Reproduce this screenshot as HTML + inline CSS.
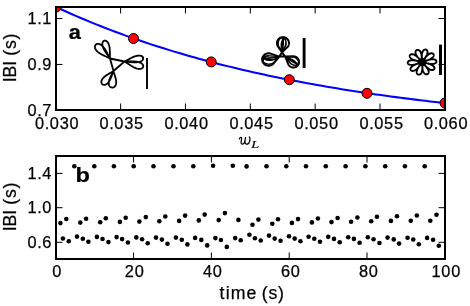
<!DOCTYPE html>
<html><head><meta charset="utf-8"><style>html,body{margin:0;padding:0;background:#fff;}svg{display:block;}</style></head>
<body><div style="position:relative;width:470px;height:306px;overflow:hidden;background:#fff">
<svg width="470" height="306" viewBox="0 0 470 306" style="position:absolute;left:0;top:0">
<rect width="470" height="306" fill="#fff"/>
<defs><clipPath id="ct"><rect x="56.10" y="6.95" width="388.90" height="103.05"/></clipPath><clipPath id="cb"><rect x="56.10" y="155.85" width="388.90" height="103.25"/></clipPath></defs>
<g clip-path="url(#ct)"><polyline points="56.10,7.03 61.02,9.30 65.95,11.53 70.87,13.72 75.79,15.87 80.71,17.99 85.64,20.06 90.56,22.10 95.48,24.10 100.41,26.06 105.33,27.99 110.25,29.88 115.17,31.74 120.10,33.57 125.02,35.36 129.94,37.12 134.86,38.85 139.79,40.55 144.71,42.22 149.63,43.85 154.56,45.46 159.48,47.04 164.40,48.59 169.32,50.11 174.25,51.61 179.17,53.08 184.09,54.52 189.02,55.93 193.94,57.32 198.86,58.69 203.78,60.03 208.71,61.34 213.63,62.64 218.55,63.90 223.47,65.15 228.40,66.37 233.32,67.58 238.24,68.76 243.17,69.91 248.09,71.05 253.01,72.17 257.93,73.27 262.86,74.34 267.78,75.40 272.70,76.44 277.63,77.46 282.55,78.46 287.47,79.44 292.39,80.41 297.32,81.36 302.24,82.29 307.16,83.20 312.08,84.10 317.01,84.98 321.93,85.85 326.85,86.70 331.78,87.53 336.70,88.35 341.62,89.16 346.54,89.95 351.47,90.73 356.39,91.49 361.31,92.24 366.24,92.97 371.16,93.69 376.08,94.40 381.00,95.10 385.93,95.78 390.85,96.45 395.77,97.11 400.69,97.76 405.62,98.39 410.54,99.02 415.46,99.63 420.39,100.23 425.31,100.82 430.23,101.40 435.15,101.97 440.08,102.53 445.00,103.08" fill="none" stroke="#0000ff" stroke-width="2.05"/>
<circle cx="56.1" cy="7.0" r="5.0" fill="#ff0000" stroke="#000" stroke-width="1.0"/>
<circle cx="133.5" cy="38.5" r="5.0" fill="#ff0000" stroke="#000" stroke-width="1.0"/>
<circle cx="211.2" cy="61.9" r="5.0" fill="#ff0000" stroke="#000" stroke-width="1.0"/>
<circle cx="289.3" cy="79.7" r="5.0" fill="#ff0000" stroke="#000" stroke-width="1.0"/>
<circle cx="367.0" cy="93.3" r="5.0" fill="#ff0000" stroke="#000" stroke-width="1.0"/>
<circle cx="445.0" cy="103.0" r="5.0" fill="#ff0000" stroke="#000" stroke-width="1.0"/>
</g>
<path d="M110.00,58.50 L109.98,58.48 L109.92,58.44 L109.82,58.38 L109.67,58.29 L109.48,58.18 L109.24,58.05 L108.96,57.91 L108.64,57.75 L108.27,57.57 L107.86,57.38 L107.42,57.17 L106.94,56.96 L106.43,56.72 L105.88,56.48 L105.32,56.22 L104.73,55.95 L104.13,55.67 L103.51,55.37 L102.89,55.06 L102.26,54.74 L101.63,54.41 L101.01,54.06 L100.40,53.69 L99.80,53.32 L99.22,52.93 L98.67,52.53 L98.14,52.12 L97.65,51.70 L97.19,51.27 L96.76,50.83 L96.38,50.39 L96.04,49.93 L95.74,49.48 L95.48,49.03 L95.28,48.57 L95.12,48.13 L95.01,47.68 L94.95,47.25 L94.93,46.83 L94.96,46.43 L95.04,46.04 L95.16,45.68 L95.32,45.34 L95.52,45.03 L95.76,44.75 L96.03,44.50 L96.33,44.29 L96.67,44.11 L97.03,43.98 L97.41,43.89 L97.81,43.85 L98.23,43.85 L98.67,43.90 L99.11,43.99 L99.57,44.13 L100.03,44.32 L100.49,44.56 L100.95,44.84 L101.41,45.17 L101.87,45.54 L102.33,45.95 L102.77,46.39 L103.21,46.87 L103.64,47.39 L104.06,47.93 L104.47,48.49 L104.86,49.07 L105.25,49.67 L105.62,50.28 L105.97,50.89 L106.32,51.51 L106.65,52.12 L106.97,52.73 L107.27,53.32 L107.56,53.90 L107.84,54.46 L108.10,54.99 L108.35,55.49 L108.58,55.97 L108.80,56.40 L109.01,56.80 L109.20,57.16 L109.37,57.48 L109.53,57.76 L109.66,57.99 L109.78,58.18 L109.87,58.32 L109.94,58.42 L109.98,58.48 L110.00,58.50Z M110.00,58.50 L109.99,58.48 L109.96,58.42 L109.91,58.32 L109.83,58.18 L109.72,58.00 L109.58,57.79 L109.42,57.54 L109.23,57.26 L109.01,56.94 L108.77,56.60 L108.50,56.23 L108.21,55.83 L107.90,55.40 L107.57,54.96 L107.23,54.49 L106.87,53.99 L106.51,53.48 L106.15,52.96 L105.78,52.42 L105.41,51.87 L105.05,51.30 L104.70,50.73 L104.37,50.16 L104.05,49.58 L103.75,48.99 L103.47,48.41 L103.22,47.83 L102.99,47.26 L102.80,46.70 L102.64,46.14 L102.51,45.60 L102.42,45.08 L102.36,44.57 L102.34,44.08 L102.36,43.62 L102.41,43.18 L102.50,42.77 L102.61,42.39 L102.77,42.04 L102.95,41.72 L103.16,41.44 L103.39,41.20 L103.65,41.00 L103.93,40.84 L104.22,40.72 L104.53,40.64 L104.85,40.61 L105.18,40.62 L105.51,40.68 L105.84,40.78 L106.18,40.93 L106.51,41.12 L106.83,41.36 L107.14,41.65 L107.44,41.97 L107.72,42.34 L107.99,42.74 L108.24,43.19 L108.48,43.67 L108.69,44.18 L108.89,44.72 L109.06,45.29 L109.22,45.88 L109.35,46.50 L109.47,47.13 L109.57,47.78 L109.65,48.44 L109.72,49.10 L109.77,49.77 L109.81,50.44 L109.84,51.10 L109.86,51.75 L109.87,52.39 L109.88,53.02 L109.88,53.62 L109.88,54.20 L109.88,54.76 L109.88,55.29 L109.88,55.78 L109.88,56.24 L109.89,56.66 L109.89,57.04 L109.90,57.38 L109.92,57.68 L109.93,57.93 L109.95,58.14 L109.97,58.30 L109.98,58.41 L109.99,58.48 L110.00,58.50Z M124.50,61.50 L124.52,61.49 L124.59,61.47 L124.70,61.43 L124.85,61.37 L125.04,61.28 L125.27,61.17 L125.54,61.04 L125.85,60.88 L126.19,60.70 L126.57,60.50 L126.98,60.28 L127.42,60.04 L127.89,59.78 L128.38,59.51 L128.90,59.22 L129.44,58.93 L129.99,58.63 L130.57,58.33 L131.16,58.03 L131.76,57.73 L132.38,57.44 L133.00,57.16 L133.62,56.90 L134.25,56.65 L134.87,56.42 L135.49,56.21 L136.11,56.03 L136.71,55.88 L137.30,55.75 L137.88,55.66 L138.44,55.60 L138.98,55.57 L139.50,55.57 L139.99,55.61 L140.46,55.68 L140.90,55.78 L141.30,55.92 L141.67,56.08 L142.00,56.27 L142.30,56.49 L142.55,56.73 L142.77,56.99 L142.94,57.27 L143.07,57.57 L143.15,57.87 L143.19,58.19 L143.18,58.51 L143.13,58.84 L143.03,59.16 L142.88,59.48 L142.69,59.79 L142.45,60.09 L142.17,60.39 L141.84,60.66 L141.48,60.92 L141.07,61.16 L140.63,61.38 L140.15,61.58 L139.64,61.75 L139.10,61.90 L138.52,62.03 L137.93,62.14 L137.31,62.22 L136.67,62.29 L136.02,62.33 L135.35,62.35 L134.68,62.35 L134.00,62.34 L133.32,62.31 L132.65,62.27 L131.98,62.22 L131.32,62.17 L130.67,62.10 L130.04,62.03 L129.43,61.96 L128.84,61.89 L128.28,61.83 L127.75,61.76 L127.26,61.70 L126.79,61.65 L126.37,61.61 L125.98,61.57 L125.64,61.54 L125.34,61.52 L125.08,61.50 L124.87,61.49 L124.71,61.49 L124.59,61.49 L124.52,61.50 L124.50,61.50Z M124.50,61.50 L124.52,61.50 L124.59,61.51 L124.71,61.53 L124.88,61.54 L125.09,61.55 L125.36,61.56 L125.66,61.56 L126.02,61.56 L126.41,61.55 L126.85,61.54 L127.32,61.53 L127.83,61.51 L128.38,61.49 L128.96,61.47 L129.56,61.45 L130.19,61.43 L130.83,61.42 L131.50,61.41 L132.18,61.41 L132.86,61.42 L133.56,61.43 L134.25,61.47 L134.94,61.51 L135.62,61.57 L136.30,61.65 L136.96,61.75 L137.60,61.87 L138.22,62.01 L138.82,62.17 L139.39,62.36 L139.93,62.56 L140.43,62.79 L140.90,63.03 L141.34,63.29 L141.73,63.58 L142.07,63.87 L142.38,64.18 L142.64,64.51 L142.85,64.84 L143.02,65.18 L143.14,65.52 L143.21,65.86 L143.24,66.19 L143.22,66.53 L143.15,66.85 L143.04,67.16 L142.88,67.45 L142.68,67.72 L142.44,67.97 L142.15,68.20 L141.83,68.39 L141.48,68.56 L141.08,68.70 L140.66,68.80 L140.21,68.87 L139.73,68.90 L139.22,68.90 L138.69,68.85 L138.15,68.78 L137.58,68.66 L137.00,68.52 L136.41,68.34 L135.81,68.13 L135.20,67.89 L134.59,67.62 L133.97,67.33 L133.36,67.02 L132.75,66.70 L132.14,66.35 L131.55,66.00 L130.96,65.65 L130.39,65.28 L129.83,64.92 L129.29,64.57 L128.77,64.22 L128.26,63.88 L127.79,63.56 L127.34,63.26 L126.91,62.97 L126.51,62.71 L126.15,62.47 L125.82,62.25 L125.52,62.07 L125.26,61.91 L125.03,61.77 L124.84,61.67 L124.69,61.59 L124.59,61.54 L124.52,61.51 L124.50,61.50Z M113.50,71.00 L113.49,71.02 L113.46,71.07 L113.40,71.17 L113.34,71.30 L113.26,71.48 L113.16,71.69 L113.06,71.95 L112.94,72.25 L112.81,72.58 L112.68,72.95 L112.53,73.36 L112.38,73.79 L112.21,74.26 L112.04,74.75 L111.86,75.27 L111.66,75.80 L111.46,76.35 L111.25,76.91 L111.02,77.48 L110.79,78.06 L110.54,78.63 L110.28,79.20 L110.01,79.76 L109.72,80.30 L109.42,80.83 L109.11,81.34 L108.79,81.83 L108.45,82.29 L108.11,82.72 L107.75,83.11 L107.38,83.47 L107.01,83.80 L106.63,84.08 L106.24,84.32 L105.85,84.53 L105.46,84.68 L105.08,84.80 L104.70,84.87 L104.32,84.90 L103.96,84.89 L103.60,84.84 L103.27,84.75 L102.95,84.62 L102.65,84.45 L102.38,84.25 L102.13,84.02 L101.92,83.76 L101.74,83.47 L101.59,83.15 L101.47,82.81 L101.40,82.45 L101.37,82.08 L101.37,81.69 L101.42,81.29 L101.51,80.88 L101.64,80.46 L101.81,80.04 L102.03,79.62 L102.28,79.19 L102.57,78.77 L102.90,78.35 L103.26,77.93 L103.65,77.52 L104.08,77.12 L104.52,76.72 L104.99,76.34 L105.48,75.96 L105.99,75.59 L106.50,75.24 L107.02,74.90 L107.55,74.56 L108.07,74.24 L108.58,73.94 L109.09,73.64 L109.58,73.36 L110.06,73.09 L110.51,72.83 L110.95,72.59 L111.35,72.36 L111.72,72.15 L112.06,71.95 L112.37,71.77 L112.64,71.60 L112.88,71.45 L113.07,71.32 L113.23,71.21 L113.35,71.12 L113.44,71.06 L113.48,71.01 L113.50,71.00Z M113.50,71.00 L113.50,71.02 L113.51,71.08 L113.52,71.18 L113.55,71.33 L113.59,71.51 L113.64,71.73 L113.71,71.99 L113.79,72.29 L113.89,72.63 L114.01,72.99 L114.13,73.39 L114.27,73.82 L114.42,74.28 L114.58,74.77 L114.75,75.27 L114.91,75.80 L115.08,76.35 L115.25,76.91 L115.41,77.48 L115.57,78.07 L115.71,78.65 L115.84,79.25 L115.95,79.84 L116.05,80.43 L116.12,81.01 L116.17,81.58 L116.19,82.14 L116.18,82.69 L116.15,83.22 L116.08,83.72 L115.98,84.21 L115.86,84.67 L115.70,85.10 L115.51,85.50 L115.30,85.87 L115.05,86.21 L114.79,86.51 L114.49,86.78 L114.18,87.00 L113.85,87.19 L113.51,87.34 L113.15,87.45 L112.79,87.52 L112.42,87.55 L112.05,87.54 L111.69,87.48 L111.33,87.39 L110.99,87.26 L110.65,87.09 L110.34,86.88 L110.05,86.64 L109.78,86.36 L109.54,86.05 L109.33,85.71 L109.15,85.33 L109.00,84.93 L108.89,84.50 L108.81,84.05 L108.76,83.58 L108.75,83.08 L108.77,82.57 L108.83,82.04 L108.92,81.51 L109.04,80.96 L109.18,80.40 L109.36,79.84 L109.55,79.28 L109.76,78.71 L109.99,78.15 L110.24,77.60 L110.49,77.05 L110.75,76.52 L111.01,75.99 L111.27,75.48 L111.53,74.99 L111.78,74.52 L112.02,74.07 L112.25,73.65 L112.46,73.25 L112.66,72.88 L112.83,72.53 L112.99,72.22 L113.12,71.94 L113.23,71.70 L113.33,71.49 L113.40,71.31 L113.45,71.18 L113.48,71.08 L113.50,71.02 L113.50,71.00Z M110.00,58.50L124.50,61.50L113.50,71.00Z" fill="none" stroke="#000" stroke-width="1.8" stroke-linejoin="round"/>
<path d="M282.00,52.30 L286.98,47.61 L287.28,47.32 L287.56,47.01 L287.82,46.68 L288.05,46.33 L288.26,45.97 L288.44,45.59 L288.60,45.20 L288.73,44.80 L288.83,44.40 L288.90,43.99 L288.95,43.57 L288.96,43.15 L288.95,42.73 L288.90,42.32 L288.83,41.90 L288.73,41.50 L288.60,41.10 L288.44,40.71 L288.26,40.33 L288.05,39.97 L287.82,39.62 L287.56,39.29 L287.28,38.98 L286.98,38.69 L286.66,38.42 L286.32,38.18 L285.96,37.95 L285.59,37.76 L285.21,37.59 L284.82,37.44 L284.41,37.33 L284.00,37.24 L283.59,37.18 L283.17,37.15 L282.75,37.15 L282.33,37.18 L281.92,37.24 L281.51,37.33 L281.11,37.44 L280.71,37.59 L280.33,37.76 L279.96,37.95 L279.61,38.18 L279.27,38.42 L278.95,38.69 L278.65,38.98 L278.37,39.29 L278.11,39.62 L277.87,39.97 L277.66,40.33 L277.48,40.71 L277.32,41.10 L277.19,41.50 L277.09,41.90 L277.02,42.32 L276.98,42.73 L276.96,43.15 L276.98,43.57 L277.02,43.99 L277.09,44.40 L277.19,44.80 L277.32,45.20 L277.48,45.59 L277.66,45.97 L277.87,46.33 L278.11,46.68Z M273.62,63.48 L279.30,56.60 L270.65,53.60 L270.21,53.48 L269.77,53.39 L269.32,53.33 L268.87,53.30 L268.41,53.30 L267.96,53.33 L267.51,53.39 L267.07,53.48 L266.63,53.60 L266.21,53.75 L265.79,53.92 L265.39,54.13 L265.01,54.35 L264.64,54.61 L264.29,54.89 L263.97,55.19 L263.66,55.51 L263.38,55.85 L263.13,56.21 L262.90,56.58 L262.70,56.97 L262.53,57.37 L262.39,57.79 L262.28,58.21 L262.20,58.63 L262.16,59.06 L262.14,59.49 L262.16,59.93 L262.20,60.36 L262.28,60.78 L262.39,61.20 L262.53,61.62 L262.70,62.02 L262.90,62.41 L263.13,62.78 L263.38,63.14 L263.66,63.48 L263.97,63.80 L264.29,64.10 L264.64,64.38 L265.01,64.63 L265.39,64.86 L265.79,65.07 L266.21,65.24 L266.63,65.39 L267.07,65.51 L267.51,65.60 L267.96,65.66 L268.41,65.69 L268.87,65.69 L269.32,65.66 L269.77,65.60 L270.21,65.51 L270.65,65.39 L271.08,65.24 L271.49,65.07 L271.89,64.86 L272.28,64.63 L272.64,64.38 L272.99,64.10 L273.32,63.80Z M285.20,56.60 L288.26,64.13 L288.43,64.48 L288.62,64.82 L288.83,65.15 L289.07,65.46 L289.32,65.76 L289.60,66.03 L289.89,66.29 L290.21,66.52 L290.53,66.74 L290.88,66.93 L291.23,67.09 L291.60,67.23 L291.97,67.35 L292.35,67.43 L292.74,67.50 L293.13,67.53 L293.52,67.54 L293.91,67.52 L294.30,67.47 L294.68,67.39 L295.06,67.29 L295.43,67.17 L295.79,67.01 L296.13,66.84 L296.47,66.63 L296.79,66.41 L297.09,66.16 L297.38,65.90 L297.65,65.61 L297.89,65.31 L298.12,64.99 L298.32,64.65 L298.49,64.30 L298.65,63.94 L298.77,63.57 L298.88,63.20 L298.95,62.81 L299.00,62.43 L299.02,62.04 L299.01,61.64 L298.98,61.25 L298.92,60.87 L298.83,60.49 L298.71,60.11 L298.57,59.75 L298.41,59.40 L298.22,59.05 L298.01,58.73 L297.77,58.41 L297.51,58.12 L297.24,57.84 L296.94,57.59 L296.63,57.35 L296.30,57.14 L295.96,56.95 L295.61,56.78 L295.24,56.64 L294.87,56.53 L294.49,56.44 L294.10,56.38 L293.71,56.35 L293.32,56.34Z M282.00,52.30L279.30,56.60L285.20,56.60Z" fill="none" stroke="#000" stroke-width="2.0" stroke-linejoin="round"/>
<path d="M282.00,52.30 L285.22,46.87 L285.38,46.56 L285.54,46.23 L285.67,45.89 L285.79,45.54 L285.89,45.17 L285.97,44.80 L286.04,44.42 L286.08,44.03 L286.11,43.64 L286.12,43.25 L286.10,42.86 L286.07,42.47 L286.02,42.09 L285.95,41.72 L285.86,41.35 L285.76,40.99 L285.63,40.64 L285.49,40.31 L285.34,39.99 L285.16,39.69 L284.98,39.40 L284.78,39.14 L284.56,38.89 L284.34,38.67 L284.10,38.47 L283.86,38.30 L283.60,38.15 L283.34,38.02 L283.07,37.92 L282.80,37.85 L282.53,37.80 L282.25,37.79 L281.98,37.80 L281.70,37.83 L281.43,37.89 L281.16,37.98 L280.89,38.10 L280.63,38.24 L280.38,38.41 L280.14,38.60 L279.91,38.81 L279.69,39.05 L279.48,39.31 L279.28,39.58 L279.10,39.88 L278.93,40.19 L278.78,40.52 L278.64,40.86 L278.52,41.22 L278.42,41.58 L278.34,41.96 L278.27,42.34 L278.23,42.72 L278.20,43.11 L278.20,43.50 L278.21,43.89 L278.24,44.28 L278.29,44.66 L278.36,45.04 L278.45,45.41 L278.55,45.77 L278.68,46.11 L278.82,46.45 L278.98,46.77Z M281.27,46.66 L282.00,52.30 L284.62,47.25 L284.76,46.98 L284.89,46.68 L285.02,46.38 L285.13,46.06 L285.24,45.73 L285.35,45.39 L285.44,45.05 L285.52,44.69 L285.60,44.34 L285.66,43.98 L285.71,43.62 L285.75,43.26 L285.79,42.90 L285.81,42.55 L285.81,42.20 L285.81,41.86 L285.80,41.53 L285.77,41.21 L285.74,40.91 L285.69,40.61 L285.63,40.34 L285.57,40.08 L285.49,39.84 L285.40,39.61 L285.30,39.41 L285.20,39.23 L285.08,39.07 L284.96,38.93 L284.83,38.82 L284.70,38.73 L284.56,38.67 L284.41,38.63 L284.26,38.62 L284.11,38.63 L283.95,38.67 L283.79,38.73 L283.63,38.81 L283.47,38.92 L283.31,39.06 L283.14,39.22 L282.99,39.39 L282.83,39.60 L282.68,39.82 L282.53,40.06 L282.38,40.32 L282.25,40.59 L282.11,40.88 L281.99,41.19 L281.87,41.51 L281.76,41.83 L281.66,42.17 L281.56,42.52 L281.48,42.87 L281.41,43.23 L281.34,43.59 L281.29,43.95 L281.25,44.31 L281.22,44.67 L281.20,45.02 L281.19,45.37 L281.19,45.70 L281.21,46.03 L281.23,46.35Z M282.00,52.30 L282.93,47.12 L282.98,46.84 L283.03,46.55 L283.07,46.25 L283.11,45.93 L283.15,45.61 L283.19,45.28 L283.23,44.95 L283.26,44.61 L283.28,44.26 L283.31,43.92 L283.33,43.57 L283.34,43.23 L283.36,42.90 L283.37,42.56 L283.37,42.24 L283.37,41.92 L283.37,41.62 L283.37,41.32 L283.36,41.04 L283.34,40.78 L283.32,40.53 L283.30,40.29 L283.28,40.08 L283.25,39.88 L283.22,39.71 L283.18,39.56 L283.15,39.42 L283.11,39.31 L283.06,39.23 L283.02,39.16 L282.97,39.12 L282.92,39.11 L282.87,39.12 L282.82,39.15 L282.77,39.21 L282.71,39.29 L282.66,39.39 L282.60,39.51 L282.54,39.66 L282.49,39.83 L282.43,40.02 L282.38,40.23 L282.33,40.46 L282.27,40.70 L282.22,40.96 L282.17,41.24 L282.13,41.53 L282.08,41.83 L282.04,42.15 L282.00,42.47 L281.96,42.80 L281.93,43.13 L281.90,43.47 L281.87,43.82 L281.85,44.16 L281.83,44.51 L281.81,44.85 L281.80,45.18 L281.79,45.52 L281.78,45.84 L281.78,46.16 L281.78,46.46 L281.79,46.76 L281.80,47.04Z M274.26,61.97 L279.30,56.60 L270.28,55.92 L269.86,55.89 L269.44,55.89 L269.02,55.91 L268.60,55.94 L268.18,56.00 L267.77,56.08 L267.36,56.17 L266.96,56.29 L266.57,56.42 L266.20,56.57 L265.84,56.73 L265.49,56.91 L265.17,57.11 L264.86,57.32 L264.58,57.55 L264.31,57.78 L264.07,58.03 L263.86,58.29 L263.67,58.55 L263.51,58.82 L263.37,59.10 L263.26,59.38 L263.19,59.67 L263.14,59.95 L263.12,60.24 L263.13,60.53 L263.17,60.81 L263.24,61.09 L263.34,61.36 L263.46,61.63 L263.62,61.89 L263.80,62.14 L264.00,62.38 L264.24,62.61 L264.49,62.82 L264.77,63.02 L265.07,63.21 L265.39,63.38 L265.73,63.54 L266.09,63.67 L266.46,63.79 L266.84,63.89 L267.23,63.98 L267.64,64.04 L268.05,64.08 L268.47,64.11 L268.89,64.11 L269.31,64.09 L269.73,64.05 L270.15,64.00 L270.56,63.92 L270.97,63.83 L271.37,63.71 L271.76,63.58 L272.13,63.43 L272.49,63.27 L272.83,63.08 L273.16,62.89 L273.47,62.68 L273.75,62.45 L274.02,62.21Z M273.77,59.55 L279.30,56.60 L269.41,55.83 L269.01,55.80 L268.62,55.78 L268.23,55.78 L267.84,55.78 L267.46,55.80 L267.08,55.83 L266.72,55.86 L266.36,55.91 L266.02,55.97 L265.70,56.04 L265.39,56.12 L265.10,56.21 L264.82,56.30 L264.57,56.41 L264.34,56.52 L264.14,56.64 L263.95,56.77 L263.79,56.91 L263.66,57.05 L263.56,57.19 L263.48,57.34 L263.42,57.49 L263.40,57.64 L263.40,57.80 L263.43,57.96 L263.49,58.12 L263.58,58.27 L263.69,58.43 L263.83,58.58 L263.99,58.74 L264.18,58.88 L264.39,59.03 L264.62,59.17 L264.88,59.30 L265.16,59.43 L265.45,59.55 L265.76,59.66 L266.09,59.77 L266.44,59.87 L266.79,59.96 L267.16,60.03 L267.54,60.10 L267.92,60.16 L268.31,60.21 L268.70,60.25 L269.10,60.28 L269.49,60.29 L269.88,60.30 L270.27,60.29 L270.65,60.28 L271.03,60.25 L271.39,60.21 L271.75,60.16 L272.09,60.11 L272.41,60.04 L272.72,59.96 L273.01,59.87 L273.29,59.77 L273.54,59.67Z M279.30,56.60 L266.63,58.26 L266.33,58.30 L266.04,58.35 L265.77,58.39 L265.52,58.44 L265.30,58.49 L265.09,58.54 L264.90,58.59 L264.74,58.64 L264.60,58.70 L264.49,58.75 L264.40,58.80 L264.34,58.86 L264.30,58.91 L264.29,58.96 L264.30,59.01 L264.34,59.06 L264.41,59.11 L264.50,59.16 L264.62,59.21 L264.76,59.25 L264.93,59.29 L265.12,59.33 L265.33,59.36 L265.56,59.40 L265.81,59.43 L266.08,59.45 L266.37,59.48 L266.67,59.50 L266.99,59.51 L267.32,59.53 L267.66,59.54 L268.01,59.54 L268.37,59.54 L268.74,59.54 L269.11,59.53 L269.48,59.53 L269.85,59.51 L270.23,59.50 L270.60,59.48 L270.96,59.45 L271.32,59.43 L271.67,59.40 L272.01,59.36 L272.34,59.33 L272.66,59.29 L272.96,59.25 L273.24,59.20 L273.51,59.16 L273.76,59.11 L273.99,59.06 L274.19,59.01 L274.38,58.96 L274.54,58.91 L274.68,58.85 L274.79,58.80Z M285.20,56.60 L289.58,62.40 L289.79,62.66 L290.01,62.92 L290.26,63.17 L290.52,63.41 L290.79,63.64 L291.08,63.85 L291.39,64.05 L291.70,64.24 L292.02,64.41 L292.35,64.56 L292.68,64.70 L293.02,64.82 L293.37,64.92 L293.71,65.01 L294.05,65.07 L294.39,65.11 L294.73,65.14 L295.06,65.14 L295.39,65.13 L295.70,65.09 L296.01,65.04 L296.30,64.96 L296.58,64.87 L296.85,64.76 L297.10,64.63 L297.33,64.48 L297.54,64.32 L297.74,64.14 L297.92,63.94 L298.07,63.73 L298.20,63.51 L298.31,63.28 L298.40,63.04 L298.46,62.78 L298.50,62.52 L298.52,62.25 L298.51,61.97 L298.48,61.69 L298.42,61.41 L298.34,61.13 L298.24,60.84 L298.11,60.56 L297.97,60.28 L297.80,60.00 L297.61,59.73 L297.40,59.46 L297.17,59.20 L296.93,58.95 L296.67,58.72 L296.39,58.49 L296.10,58.27 L295.80,58.07 L295.49,57.89 L295.17,57.72 L294.84,57.56 L294.50,57.42 L294.16,57.30 L293.82,57.20 L293.48,57.12 L293.13,57.06 L292.79,57.01 L292.45,56.99Z M285.20,56.60 L289.56,62.07 L289.76,62.30 L289.97,62.54 L290.20,62.77 L290.44,63.00 L290.68,63.22 L290.94,63.44 L291.21,63.65 L291.48,63.86 L291.76,64.05 L292.04,64.24 L292.32,64.42 L292.61,64.58 L292.89,64.74 L293.18,64.88 L293.46,65.01 L293.73,65.12 L294.00,65.22 L294.26,65.31 L294.52,65.38 L294.76,65.43 L295.00,65.47 L295.22,65.49 L295.43,65.49 L295.63,65.48 L295.81,65.46 L295.97,65.41 L296.12,65.35 L296.25,65.28 L296.36,65.19 L296.46,65.08 L296.53,64.96 L296.59,64.83 L296.62,64.68 L296.64,64.53 L296.64,64.35 L296.61,64.17 L296.57,63.98 L296.51,63.78 L296.43,63.58 L296.32,63.36 L296.21,63.14 L296.07,62.91 L295.91,62.68 L295.74,62.45 L295.56,62.22 L295.36,61.99 L295.14,61.75 L294.92,61.52 L294.68,61.29 L294.43,61.07 L294.17,60.85 L293.91,60.64 L293.63,60.43 L293.36,60.24 L293.07,60.05 L292.79,59.87 L292.51,59.70 L292.22,59.55 L291.94,59.41 L291.66,59.28Z M285.20,56.60 L290.48,60.45 L290.72,60.62 L290.96,60.79 L291.21,60.96 L291.47,61.13 L291.73,61.30 L292.00,61.47 L292.28,61.64 L292.55,61.80 L292.83,61.96 L293.11,62.12 L293.38,62.28 L293.65,62.42 L293.92,62.57 L294.18,62.70 L294.44,62.83 L294.69,62.95 L294.92,63.06 L295.15,63.16 L295.37,63.25 L295.57,63.33 L295.76,63.40 L295.93,63.46 L296.09,63.51 L296.23,63.55 L296.36,63.57 L296.47,63.59 L296.56,63.59 L296.63,63.58 L296.68,63.55 L296.72,63.52 L296.73,63.47 L296.73,63.42 L296.70,63.35 L296.66,63.27 L296.60,63.18 L296.51,63.08 L296.42,62.97 L296.30,62.85 L296.16,62.73 L296.01,62.59 L295.85,62.45 L295.66,62.30 L295.47,62.15 L295.26,61.99 L295.04,61.83 L294.81,61.67 L294.56,61.50 L294.31,61.33 L294.05,61.16 L293.79,60.99 L293.52,60.82 L293.24,60.65 L292.97,60.48 L292.69,60.32 L292.41,60.16 L292.14,60.01 L291.87,59.86 L291.60,59.72 L291.34,59.58 L291.08,59.46Z" fill="none" stroke="#000" stroke-width="1.4" stroke-linejoin="round"/>
<path d="M422.10,62.10 L422.13,62.10 L422.21,62.08 L422.34,62.05 L422.53,62.00 L422.77,61.93 L423.05,61.84 L423.38,61.72 L423.76,61.59 L424.17,61.44 L424.63,61.28 L425.12,61.10 L425.64,60.91 L426.18,60.72 L426.75,60.52 L427.34,60.32 L427.94,60.13 L428.56,59.95 L429.17,59.78 L429.79,59.63 L430.41,59.50 L431.02,59.40 L431.61,59.33 L432.19,59.28 L432.75,59.27 L433.28,59.29 L433.78,59.34 L434.25,59.43 L434.68,59.55 L435.08,59.70 L435.42,59.89 L435.73,60.10 L435.98,60.33 L436.19,60.58 L436.34,60.85 L436.44,61.13 L436.48,61.42 L436.47,61.71 L436.40,62.00 L436.28,62.28 L436.11,62.55 L435.89,62.81 L435.61,63.05 L435.28,63.26 L434.91,63.45 L434.50,63.61 L434.04,63.74 L433.55,63.84 L433.02,63.91 L432.46,63.95 L431.88,63.96 L431.28,63.95 L430.67,63.90 L430.04,63.83 L429.41,63.74 L428.77,63.63 L428.14,63.51 L427.52,63.38 L426.91,63.24 L426.32,63.09 L425.75,62.95 L425.22,62.81 L424.71,62.68 L424.24,62.56 L423.81,62.45 L423.42,62.35 L423.08,62.27 L422.78,62.21 L422.54,62.16 L422.35,62.13 L422.21,62.11 L422.13,62.10 L422.10,62.10Z M422.10,62.10 L422.12,62.08 L422.17,62.03 L422.26,61.93 L422.38,61.79 L422.53,61.61 L422.70,61.38 L422.89,61.12 L423.11,60.81 L423.35,60.47 L423.61,60.10 L423.89,59.70 L424.18,59.27 L424.50,58.82 L424.83,58.36 L425.18,57.89 L425.54,57.42 L425.92,56.94 L426.31,56.48 L426.71,56.03 L427.13,55.60 L427.55,55.20 L427.99,54.82 L428.42,54.48 L428.87,54.17 L429.31,53.91 L429.75,53.69 L430.19,53.51 L430.62,53.38 L431.03,53.30 L431.43,53.26 L431.82,53.27 L432.17,53.32 L432.50,53.42 L432.80,53.56 L433.07,53.73 L433.29,53.94 L433.47,54.18 L433.61,54.45 L433.70,54.74 L433.73,55.06 L433.72,55.38 L433.65,55.72 L433.52,56.07 L433.35,56.41 L433.12,56.77 L432.83,57.11 L432.50,57.46 L432.12,57.79 L431.70,58.12 L431.23,58.43 L430.73,58.73 L430.21,59.02 L429.65,59.30 L429.08,59.56 L428.50,59.81 L427.91,60.04 L427.32,60.27 L426.73,60.47 L426.16,60.67 L425.61,60.85 L425.09,61.03 L424.59,61.19 L424.13,61.34 L423.71,61.48 L423.33,61.61 L423.00,61.72 L422.72,61.83 L422.50,61.92 L422.32,61.99 L422.20,62.05 L422.12,62.09 L422.10,62.10Z M422.10,62.10 L422.10,62.08 L422.11,62.00 L422.12,61.88 L422.12,61.70 L422.12,61.48 L422.11,61.20 L422.10,60.89 L422.08,60.52 L422.05,60.12 L422.01,59.68 L421.98,59.21 L421.94,58.71 L421.90,58.18 L421.87,57.63 L421.84,57.06 L421.82,56.49 L421.82,55.91 L421.84,55.33 L421.87,54.75 L421.92,54.18 L422.00,53.63 L422.11,53.10 L422.24,52.59 L422.40,52.11 L422.58,51.66 L422.80,51.25 L423.03,50.87 L423.30,50.54 L423.58,50.25 L423.88,50.01 L424.19,49.82 L424.52,49.67 L424.85,49.57 L425.18,49.53 L425.51,49.53 L425.83,49.58 L426.13,49.68 L426.42,49.83 L426.68,50.02 L426.91,50.25 L427.11,50.52 L427.28,50.83 L427.40,51.17 L427.49,51.55 L427.53,51.96 L427.53,52.39 L427.48,52.84 L427.39,53.31 L427.26,53.80 L427.09,54.30 L426.89,54.81 L426.65,55.32 L426.38,55.84 L426.09,56.35 L425.78,56.86 L425.46,57.37 L425.12,57.86 L424.79,58.33 L424.45,58.79 L424.13,59.23 L423.81,59.65 L423.52,60.05 L423.24,60.41 L423.00,60.75 L422.78,61.05 L422.59,61.32 L422.43,61.55 L422.30,61.74 L422.21,61.90 L422.14,62.01 L422.11,62.08 L422.10,62.10Z M422.10,62.10 L422.09,62.08 L422.05,62.01 L421.97,61.91 L421.86,61.76 L421.71,61.58 L421.53,61.37 L421.31,61.12 L421.05,60.84 L420.77,60.53 L420.45,60.19 L420.11,59.83 L419.75,59.44 L419.38,59.03 L418.99,58.61 L418.60,58.16 L418.21,57.71 L417.83,57.24 L417.46,56.76 L417.11,56.28 L416.79,55.79 L416.49,55.30 L416.23,54.81 L416.00,54.33 L415.82,53.86 L415.67,53.40 L415.58,52.95 L415.52,52.52 L415.52,52.12 L415.56,51.73 L415.64,51.38 L415.77,51.05 L415.94,50.76 L416.14,50.51 L416.38,50.30 L416.65,50.13 L416.94,50.00 L417.25,49.92 L417.58,49.89 L417.91,49.90 L418.25,49.97 L418.59,50.08 L418.93,50.24 L419.25,50.46 L419.57,50.72 L419.87,51.02 L420.15,51.37 L420.41,51.76 L420.64,52.19 L420.86,52.66 L421.05,53.15 L421.21,53.67 L421.35,54.21 L421.48,54.77 L421.58,55.34 L421.66,55.92 L421.72,56.49 L421.77,57.07 L421.81,57.63 L421.84,58.18 L421.87,58.71 L421.89,59.21 L421.91,59.69 L421.92,60.13 L421.94,60.53 L421.96,60.89 L421.98,61.21 L422.01,61.48 L422.03,61.71 L422.05,61.88 L422.08,62.00 L422.09,62.08 L422.10,62.10Z M422.10,62.10 L422.08,62.09 L422.00,62.06 L421.87,62.01 L421.69,61.96 L421.45,61.89 L421.16,61.81 L420.82,61.73 L420.43,61.63 L419.99,61.53 L419.52,61.43 L419.01,61.31 L418.46,61.19 L417.89,61.06 L417.30,60.92 L416.70,60.77 L416.09,60.60 L415.47,60.42 L414.86,60.23 L414.26,60.03 L413.68,59.80 L413.12,59.57 L412.59,59.31 L412.09,59.04 L411.63,58.76 L411.22,58.46 L410.85,58.15 L410.53,57.83 L410.25,57.50 L410.04,57.17 L409.87,56.84 L409.77,56.51 L409.71,56.19 L409.71,55.88 L409.77,55.58 L409.87,55.30 L410.02,55.04 L410.22,54.81 L410.46,54.61 L410.74,54.45 L411.06,54.32 L411.41,54.23 L411.79,54.19 L412.19,54.19 L412.62,54.23 L413.06,54.32 L413.51,54.45 L413.98,54.63 L414.45,54.85 L414.93,55.12 L415.40,55.42 L415.88,55.75 L416.34,56.11 L416.81,56.50 L417.26,56.91 L417.70,57.33 L418.13,57.76 L418.55,58.20 L418.95,58.64 L419.33,59.06 L419.70,59.48 L420.04,59.88 L420.37,60.25 L420.67,60.60 L420.95,60.91 L421.20,61.20 L421.42,61.44 L421.62,61.65 L421.79,61.82 L421.92,61.95 L422.02,62.03 L422.08,62.08 L422.10,62.10Z M422.10,62.10 L422.07,62.10 L421.99,62.12 L421.86,62.15 L421.67,62.20 L421.43,62.27 L421.15,62.36 L420.82,62.48 L420.44,62.61 L420.03,62.76 L419.57,62.92 L419.08,63.10 L418.56,63.29 L418.02,63.48 L417.45,63.68 L416.86,63.88 L416.26,64.07 L415.64,64.25 L415.03,64.42 L414.41,64.57 L413.79,64.70 L413.18,64.80 L412.59,64.87 L412.01,64.92 L411.45,64.93 L410.92,64.91 L410.42,64.86 L409.95,64.77 L409.52,64.65 L409.12,64.50 L408.78,64.31 L408.47,64.10 L408.22,63.87 L408.01,63.62 L407.86,63.35 L407.76,63.07 L407.72,62.78 L407.73,62.49 L407.80,62.20 L407.92,61.92 L408.09,61.65 L408.31,61.39 L408.59,61.15 L408.92,60.94 L409.29,60.75 L409.70,60.59 L410.16,60.46 L410.65,60.36 L411.18,60.29 L411.74,60.25 L412.32,60.24 L412.92,60.25 L413.53,60.30 L414.16,60.37 L414.79,60.46 L415.43,60.57 L416.06,60.69 L416.68,60.82 L417.29,60.96 L417.88,61.11 L418.45,61.25 L418.98,61.39 L419.49,61.52 L419.96,61.64 L420.39,61.75 L420.78,61.85 L421.12,61.93 L421.42,61.99 L421.66,62.04 L421.85,62.07 L421.99,62.09 L422.07,62.10 L422.10,62.10Z M422.10,62.10 L422.08,62.12 L422.03,62.17 L421.94,62.27 L421.82,62.41 L421.67,62.59 L421.50,62.82 L421.31,63.08 L421.09,63.39 L420.85,63.73 L420.59,64.10 L420.31,64.50 L420.02,64.93 L419.70,65.38 L419.37,65.84 L419.02,66.31 L418.66,66.78 L418.28,67.26 L417.89,67.72 L417.49,68.17 L417.07,68.60 L416.65,69.00 L416.21,69.38 L415.78,69.72 L415.33,70.03 L414.89,70.29 L414.45,70.51 L414.01,70.69 L413.58,70.82 L413.17,70.90 L412.77,70.94 L412.38,70.93 L412.03,70.88 L411.70,70.78 L411.40,70.64 L411.13,70.47 L410.91,70.26 L410.73,70.02 L410.59,69.75 L410.50,69.46 L410.47,69.14 L410.48,68.82 L410.55,68.48 L410.68,68.13 L410.85,67.79 L411.08,67.43 L411.37,67.09 L411.70,66.74 L412.08,66.41 L412.50,66.08 L412.97,65.77 L413.47,65.47 L413.99,65.18 L414.55,64.90 L415.12,64.64 L415.70,64.39 L416.29,64.16 L416.88,63.93 L417.47,63.73 L418.04,63.53 L418.59,63.35 L419.11,63.17 L419.61,63.01 L420.07,62.86 L420.49,62.72 L420.87,62.59 L421.20,62.48 L421.48,62.37 L421.70,62.28 L421.88,62.21 L422.00,62.15 L422.08,62.11 L422.10,62.10Z M422.10,62.10 L422.10,62.12 L422.09,62.20 L422.08,62.32 L422.08,62.50 L422.08,62.72 L422.09,63.00 L422.10,63.31 L422.12,63.68 L422.15,64.08 L422.19,64.52 L422.22,64.99 L422.26,65.49 L422.30,66.02 L422.33,66.57 L422.36,67.14 L422.38,67.71 L422.38,68.29 L422.36,68.87 L422.33,69.45 L422.28,70.02 L422.20,70.57 L422.09,71.10 L421.96,71.61 L421.80,72.09 L421.62,72.54 L421.40,72.95 L421.17,73.33 L420.90,73.66 L420.62,73.95 L420.32,74.19 L420.01,74.38 L419.68,74.53 L419.35,74.63 L419.02,74.67 L418.69,74.67 L418.37,74.62 L418.07,74.52 L417.78,74.37 L417.52,74.18 L417.29,73.95 L417.09,73.68 L416.92,73.37 L416.80,73.03 L416.71,72.65 L416.67,72.24 L416.67,71.81 L416.72,71.36 L416.81,70.89 L416.94,70.40 L417.11,69.90 L417.31,69.39 L417.55,68.88 L417.82,68.36 L418.11,67.85 L418.42,67.34 L418.74,66.83 L419.08,66.34 L419.41,65.87 L419.75,65.41 L420.07,64.97 L420.39,64.55 L420.68,64.15 L420.96,63.79 L421.20,63.45 L421.42,63.15 L421.61,62.88 L421.77,62.65 L421.90,62.46 L421.99,62.30 L422.06,62.19 L422.09,62.12 L422.10,62.10Z M422.10,62.10 L422.11,62.12 L422.15,62.19 L422.23,62.29 L422.34,62.44 L422.49,62.62 L422.67,62.83 L422.89,63.08 L423.15,63.36 L423.43,63.67 L423.75,64.01 L424.09,64.37 L424.45,64.76 L424.82,65.17 L425.21,65.59 L425.60,66.04 L425.99,66.49 L426.37,66.96 L426.74,67.44 L427.09,67.92 L427.41,68.41 L427.71,68.90 L427.97,69.39 L428.20,69.87 L428.38,70.34 L428.53,70.80 L428.62,71.25 L428.68,71.68 L428.68,72.08 L428.64,72.47 L428.56,72.82 L428.43,73.15 L428.26,73.44 L428.06,73.69 L427.82,73.90 L427.55,74.07 L427.26,74.20 L426.95,74.28 L426.62,74.31 L426.29,74.30 L425.95,74.23 L425.61,74.12 L425.27,73.96 L424.95,73.74 L424.63,73.48 L424.33,73.18 L424.05,72.83 L423.79,72.44 L423.56,72.01 L423.34,71.54 L423.15,71.05 L422.99,70.53 L422.85,69.99 L422.72,69.43 L422.62,68.86 L422.54,68.28 L422.48,67.71 L422.43,67.13 L422.39,66.57 L422.36,66.02 L422.33,65.49 L422.31,64.99 L422.29,64.51 L422.28,64.07 L422.26,63.67 L422.24,63.31 L422.22,62.99 L422.19,62.72 L422.17,62.49 L422.15,62.32 L422.12,62.20 L422.11,62.12 L422.10,62.10Z M422.10,62.10 L422.12,62.11 L422.20,62.14 L422.33,62.19 L422.51,62.24 L422.75,62.31 L423.04,62.39 L423.38,62.47 L423.77,62.57 L424.21,62.67 L424.68,62.77 L425.19,62.89 L425.74,63.01 L426.31,63.14 L426.90,63.28 L427.50,63.43 L428.11,63.60 L428.73,63.78 L429.34,63.97 L429.94,64.17 L430.52,64.40 L431.08,64.63 L431.61,64.89 L432.11,65.16 L432.57,65.44 L432.98,65.74 L433.35,66.05 L433.67,66.37 L433.95,66.70 L434.16,67.03 L434.33,67.36 L434.43,67.69 L434.49,68.01 L434.49,68.32 L434.43,68.62 L434.33,68.90 L434.18,69.16 L433.98,69.39 L433.74,69.59 L433.46,69.75 L433.14,69.88 L432.79,69.97 L432.41,70.01 L432.01,70.01 L431.58,69.97 L431.14,69.88 L430.69,69.75 L430.22,69.57 L429.75,69.35 L429.27,69.08 L428.80,68.78 L428.32,68.45 L427.86,68.09 L427.39,67.70 L426.94,67.29 L426.50,66.87 L426.07,66.44 L425.65,66.00 L425.25,65.56 L424.87,65.14 L424.50,64.72 L424.16,64.32 L423.83,63.95 L423.53,63.60 L423.25,63.29 L423.00,63.00 L422.78,62.76 L422.58,62.55 L422.41,62.38 L422.28,62.25 L422.18,62.17 L422.12,62.12 L422.10,62.10Z" fill="none" stroke="#000" stroke-width="1.9" stroke-linejoin="round"/>
<ellipse cx="422.1" cy="62.1" rx="4.5" ry="4.1" fill="#000"/>
<path d="M147,58V89" stroke="#000" stroke-width="1.9"/>
<path d="M304.1,38V68" stroke="#000" stroke-width="2.9"/>
<path d="M440.5,44.6V75" stroke="#000" stroke-width="3"/>
<path d="M120.60,110.00v-6.5M120.60,7.00v6.5M185.45,110.00v-6.5M185.45,7.00v6.5M250.30,110.00v-6.5M250.30,7.00v6.5M315.15,110.00v-6.5M315.15,7.00v6.5M380.00,110.00v-6.5M380.00,7.00v6.5M56.00,64.45h6.5M445.00,64.45h-6.5M56.00,18.50h6.5M445.00,18.50h-6.5" stroke="#000" stroke-width="1.0" fill="none"/>
<rect x="56" y="7" width="389.00" height="103.00" fill="none" stroke="#000" stroke-width="2.0"/>
<g fill="#000"><circle cx="74.3" cy="166.2" r="2.3"/><circle cx="94.3" cy="166.2" r="2.3"/><circle cx="113.9" cy="166.2" r="2.3"/><circle cx="133.7" cy="166.2" r="2.3"/><circle cx="153.5" cy="166.2" r="2.3"/><circle cx="173.5" cy="166.2" r="2.3"/><circle cx="193.3" cy="166.2" r="2.3"/><circle cx="213.1" cy="165.7" r="2.3"/><circle cx="232.8" cy="165.7" r="2.3"/><circle cx="246.6" cy="166.4" r="2.3"/><circle cx="266.5" cy="166.2" r="2.3"/><circle cx="286.3" cy="166.2" r="2.3"/><circle cx="306" cy="166.2" r="2.3"/><circle cx="325.8" cy="166.2" r="2.3"/><circle cx="345.6" cy="166.2" r="2.3"/><circle cx="365.4" cy="166.2" r="2.3"/><circle cx="385.2" cy="166.2" r="2.3"/><circle cx="404.9" cy="166.2" r="2.3"/><circle cx="424.7" cy="166.2" r="2.3"/><circle cx="60.4" cy="223.1" r="2.3"/><circle cx="66.3" cy="219" r="2.3"/><circle cx="80.3" cy="222.6" r="2.3"/><circle cx="86.1" cy="218.7" r="2.3"/><circle cx="100.2" cy="222.2" r="2.3"/><circle cx="105.8" cy="218.2" r="2.3"/><circle cx="119.9" cy="221.9" r="2.3"/><circle cx="125.7" cy="217.8" r="2.3"/><circle cx="139.4" cy="221.6" r="2.3"/><circle cx="145.8" cy="217.1" r="2.3"/><circle cx="159.3" cy="221.2" r="2.3"/><circle cx="165.3" cy="216.5" r="2.3"/><circle cx="179.1" cy="220.9" r="2.3"/><circle cx="185.1" cy="215.6" r="2.3"/><circle cx="198.8" cy="220.4" r="2.3"/><circle cx="204.7" cy="214.6" r="2.3"/><circle cx="218.7" cy="220.1" r="2.3"/><circle cx="224.9" cy="213.1" r="2.3"/><circle cx="238.4" cy="219.9" r="2.3"/><circle cx="252.5" cy="224.8" r="2.3"/><circle cx="258.4" cy="219.6" r="2.3"/><circle cx="272.3" cy="223.7" r="2.3"/><circle cx="278" cy="219.3" r="2.3"/><circle cx="291.9" cy="222.9" r="2.3"/><circle cx="298" cy="219.1" r="2.3"/><circle cx="311.9" cy="222.4" r="2.3"/><circle cx="317.9" cy="218.5" r="2.3"/><circle cx="331.5" cy="222.1" r="2.3"/><circle cx="337.6" cy="218" r="2.3"/><circle cx="351.1" cy="221.7" r="2.3"/><circle cx="357.4" cy="217.5" r="2.3"/><circle cx="371.2" cy="221.2" r="2.3"/><circle cx="377" cy="216.8" r="2.3"/><circle cx="390.9" cy="220.9" r="2.3"/><circle cx="397" cy="216.3" r="2.3"/><circle cx="410.75" cy="220.85" r="2.3"/><circle cx="416.85" cy="215.5" r="2.3"/><circle cx="430.3" cy="220.8" r="2.3"/><circle cx="436.5" cy="214.7" r="2.3"/><circle cx="62.9" cy="238.5" r="2.3"/><circle cx="68.8" cy="241.2" r="2.3"/><circle cx="77" cy="236.6" r="2.3"/><circle cx="82.8" cy="238.8" r="2.3"/><circle cx="88.4" cy="241.8" r="2.3"/><circle cx="96.9" cy="236.9" r="2.3"/><circle cx="102.55" cy="239" r="2.3"/><circle cx="108.4" cy="242.1" r="2.3"/><circle cx="116.6" cy="237.1" r="2.3"/><circle cx="122.1" cy="239.1" r="2.3"/><circle cx="127.9" cy="242.5" r="2.3"/><circle cx="136.3" cy="237.4" r="2.3"/><circle cx="142.1" cy="239.3" r="2.3"/><circle cx="147.7" cy="243.2" r="2.3"/><circle cx="156" cy="237.6" r="2.3"/><circle cx="161.9" cy="239.6" r="2.3"/><circle cx="167.5" cy="243.8" r="2.3"/><circle cx="175.9" cy="237.6" r="2.3"/><circle cx="181.8" cy="239.7" r="2.3"/><circle cx="187.4" cy="244.4" r="2.3"/><circle cx="195.1" cy="237.9" r="2.3"/><circle cx="201.3" cy="239.9" r="2.3"/><circle cx="207.2" cy="245.4" r="2.3"/><circle cx="215.4" cy="238.1" r="2.3"/><circle cx="220.9" cy="240" r="2.3"/><circle cx="226.8" cy="246.9" r="2.3"/><circle cx="235.2" cy="238.1" r="2.3"/><circle cx="240.7" cy="240.25" r="2.3"/><circle cx="249.4" cy="234.8" r="2.3"/><circle cx="254.9" cy="238.3" r="2.3"/><circle cx="260.75" cy="240.55" r="2.3"/><circle cx="269" cy="235.6" r="2.3"/><circle cx="274.7" cy="238.6" r="2.3"/><circle cx="280.6" cy="240.8" r="2.3"/><circle cx="289" cy="236.3" r="2.3"/><circle cx="294.7" cy="238.6" r="2.3"/><circle cx="300.4" cy="241.2" r="2.3"/><circle cx="308.6" cy="236.8" r="2.3"/><circle cx="314.3" cy="238.7" r="2.3"/><circle cx="320" cy="241.7" r="2.3"/><circle cx="328.25" cy="236.85" r="2.3"/><circle cx="334" cy="238.9" r="2.3"/><circle cx="339.7" cy="242.2" r="2.3"/><circle cx="348.2" cy="237.3" r="2.3"/><circle cx="353.9" cy="238.9" r="2.3"/><circle cx="359.6" cy="242.8" r="2.3"/><circle cx="367.8" cy="237.3" r="2.3"/><circle cx="373.55" cy="239.2" r="2.3"/><circle cx="379.5" cy="243" r="2.3"/><circle cx="387.6" cy="237.6" r="2.3"/><circle cx="393.7" cy="239.4" r="2.3"/><circle cx="399.1" cy="243.6" r="2.3"/><circle cx="407.55" cy="237.75" r="2.3"/><circle cx="413.25" cy="239.5" r="2.3"/><circle cx="418.8" cy="244.25" r="2.3"/><circle cx="427.1" cy="237.9" r="2.3"/><circle cx="433.1" cy="239.7" r="2.3"/><circle cx="438.8" cy="245.8" r="2.3"/></g>
<path d="M133.57,259.00v-6.5M133.57,156.00v6.5M211.39,259.00v-6.5M211.39,156.00v6.5M289.21,259.00v-6.5M289.21,156.00v6.5M367.03,259.00v-6.5M367.03,156.00v6.5M56.00,242.30h6.5M445.00,242.30h-6.5M56.00,207.70h6.5M445.00,207.70h-6.5M56.00,173.40h6.5M445.00,173.40h-6.5" stroke="#000" stroke-width="1.0" fill="none"/>
<rect x="56" y="156" width="389.00" height="103.00" fill="none" stroke="#000" stroke-width="2.0"/>
</svg>
<svg width="470" height="306" viewBox="0 0 470 306" style="position:absolute;left:0;top:0;filter:grayscale(1)">
<g fill="#000" stroke="#000" stroke-width="0.25">
<text x="27.59 37.23 42.30" y="116.00" font-family="Liberation Sans, sans-serif" font-size="16.36">0.7</text>
<text x="27.59 37.23 42.28" y="70.20" font-family="Liberation Sans, sans-serif" font-size="16.36">0.9</text>
<text x="27.51 37.23 42.25" y="24.20" font-family="Liberation Sans, sans-serif" font-size="16.36">1.1</text>
<text x="27.59 37.23 42.33" y="248.20" font-family="Liberation Sans, sans-serif" font-size="16.36">0.6</text>
<text x="27.51 37.23 42.33" y="213.40" font-family="Liberation Sans, sans-serif" font-size="16.36">1.0</text>
<text x="27.51 37.23 42.33" y="179.10" font-family="Liberation Sans, sans-serif" font-size="16.36">1.4</text>
<text x="35.05 44.69 49.79 59.64 69.45" y="128.85" font-family="Liberation Sans, sans-serif" font-size="16.36">0.030</text>
<text x="99.55 109.19 114.29 124.14 133.89" y="128.85" font-family="Liberation Sans, sans-serif" font-size="16.36">0.035</text>
<text x="164.55 174.19 179.29 189.12 198.95" y="128.85" font-family="Liberation Sans, sans-serif" font-size="16.36">0.040</text>
<text x="229.55 239.19 244.29 254.12 263.89" y="128.85" font-family="Liberation Sans, sans-serif" font-size="16.36">0.045</text>
<text x="294.55 304.19 309.29 319.06 328.95" y="128.85" font-family="Liberation Sans, sans-serif" font-size="16.36">0.050</text>
<text x="359.55 369.19 374.29 384.06 393.89" y="128.85" font-family="Liberation Sans, sans-serif" font-size="16.36">0.055</text>
<text x="424.05 433.69 438.79 448.62 458.45" y="128.85" font-family="Liberation Sans, sans-serif" font-size="16.36">0.060</text>
<text x="52.35" y="277.40" font-family="Liberation Sans, sans-serif" font-size="16.36">0</text>
<text x="124.73 134.76" y="277.40" font-family="Liberation Sans, sans-serif" font-size="16.36">20</text>
<text x="202.93 212.76" y="277.40" font-family="Liberation Sans, sans-serif" font-size="16.36">40</text>
<text x="280.93 290.76" y="277.40" font-family="Liberation Sans, sans-serif" font-size="16.36">60</text>
<text x="358.93 368.76" y="277.40" font-family="Liberation Sans, sans-serif" font-size="16.36">80</text>
<text x="431.43 441.35 451.18" y="277.40" font-family="Liberation Sans, sans-serif" font-size="16.36">100</text>
<text x="219.62 225.77 230.87 246.59 256.63 261.81 268.51 277.94" y="299.00" font-family="Liberation Sans, sans-serif" font-size="17.71">time (s)</text>
<text transform="matrix(0,-1,1,0,16.0,80.50)" x="-1.64 3.09 14.77 19.69 24.87 31.58 41.00" y="0" font-family="Liberation Sans, sans-serif" font-size="17.71">IBI (s)</text>
<text transform="matrix(0,-1,1,0,16.0,229.50)" x="-1.64 3.09 14.77 19.69 24.87 31.58 41.00" y="0" font-family="Liberation Sans, sans-serif" font-size="17.71">IBI (s)</text>
<text transform="matrix(0.9913,0,0,0.9583,68.86,39.46)" font-family="Liberation Sans, sans-serif" font-size="22" font-weight="bold">a</text>
<text transform="matrix(1.0727,0,0,0.9538,75.49,181.56)" font-family="Liberation Sans, sans-serif" font-size="22" font-weight="bold">b</text>
<path d="M239.4,139.0C239.7,137.5 240.9,136.9 241.5,137.6C242.0,138.3 241.3,140.4 241.1,141.9C240.9,143.5 241.6,144.3 242.6,144.2C243.7,144.1 244.5,142.8 244.8,141.6L245.5,137.6M245.1,140.2C244.8,142.6 245.3,144.2 246.6,144.2C248.3,144.2 249.6,142.0 249.9,139.8C250.1,138.5 249.8,137.4 249.4,137.0" fill="none" stroke="#000" stroke-width="1.25" stroke-linecap="round"/>
<text transform="matrix(0.8970,0,0,0.6762,251.32,148.30)" font-family="Liberation Serif, serif" font-size="16" font-style="italic">L</text>
</g>
</svg></div></body></html>
